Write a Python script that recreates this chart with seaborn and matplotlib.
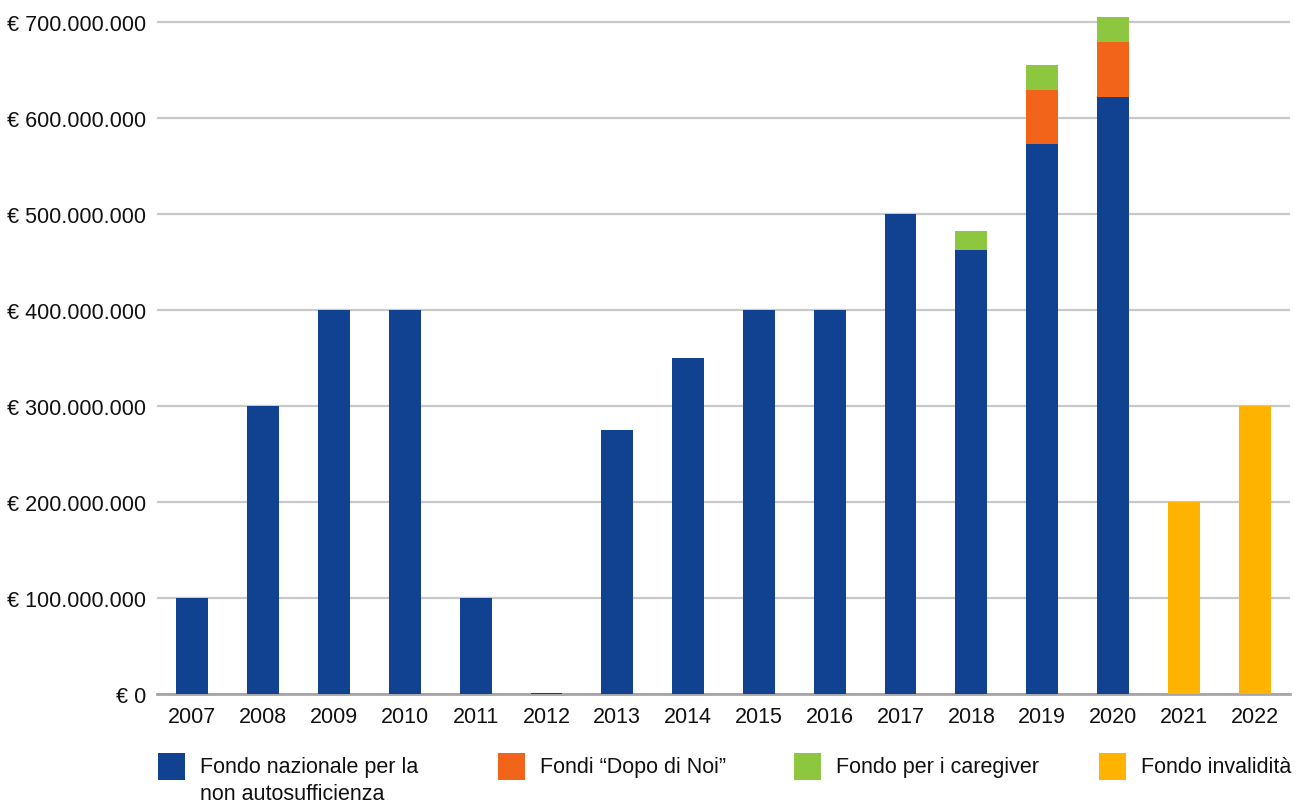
import matplotlib
matplotlib.use("Agg")
import matplotlib.pyplot as plt
import matplotlib.ticker as mticker
from matplotlib.patches import Rectangle
import numpy as np
import pandas as pd
import seaborn as sns

# Yearly funding (millions of euro)
years = ["2007", "2008", "2009", "2010", "2011", "2012", "2013", "2014",
         "2015", "2016", "2017", "2018", "2019", "2020", "2021", "2022"]
fna = [100, 300, 400, 400, 100, 1, 275, 350, 400, 400, 500, 462, 573, 621, 0, 0]
dopo_di_noi = [0, 0, 0, 0, 0, 0, 0, 0, 0, 0, 0, 0, 56, 58, 0, 0]
caregiver = [0, 0, 0, 0, 0, 0, 0, 0, 0, 0, 0, 20, 26, 26, 0, 0]
invalidita = [0, 0, 0, 0, 0, 0, 0, 0, 0, 0, 0, 0, 0, 0, 200, 300]

labels = ["Fondo nazionale per la\nnon autosufficienza", "Fondi \u201cDopo di Noi\u201d",
          "Fondo per i caregiver", "Fondo invalidit\u00e0"]
colors = ["#104291", "#F26419", "#8DC63F", "#FDB300"]

sns.set_theme(style="white")
plt.rcParams["font.family"] = ["Liberation Sans", "DejaVu Sans"]

W, H = 1304, 804
FS = 15.5
M = 1e6
df = pd.DataFrame({
    "year": years,
    "fna": np.array(fna) * M,
    "dopo": np.array(dopo_di_noi) * M,
    "care": np.array(caregiver) * M,
    "inv": np.array(invalidita) * M,
})
df["lvl2"] = df["fna"] + df["dopo"]
df["lvl3"] = df["lvl2"] + df["care"]

fig = plt.figure(figsize=(W / 100, H / 100), dpi=100)
ax = fig.add_axes([157 / W, 1 - 695 / H, (1290 - 157) / W, (695 - 11) / H])

bw = 0.45
# stacked layers: draw cumulative totals from the top layer down
for col, c in [("lvl3", colors[2]), ("lvl2", colors[1]), ("fna", colors[0]), ("inv", colors[3])]:
    sns.barplot(data=df, x="year", y=col, color=c, width=bw, saturation=1,
                ax=ax, zorder=3, linewidth=0)

ax.set_xlim(-0.5, len(years) - 0.5)
ax.set_ylim(0, 712 * M)
ax.set_yticks(np.arange(0, 701, 100) * M)


def euro(v, pos):
    if v == 0:
        return "\u20ac 0"
    return "\u20ac " + f"{int(round(v)):,}".replace(",", ".")


ax.yaxis.set_major_formatter(mticker.FuncFormatter(euro))
ax.grid(axis="y", color="#c8c8c8", linewidth=1.6, zorder=1)
ax.set_axisbelow(True)
for s in ["top", "right", "left"]:
    ax.spines[s].set_visible(False)
ax.spines["bottom"].set_color("#a6a6a6")
ax.spines["bottom"].set_linewidth(2)
ax.spines["bottom"].set_zorder(2)
ax.tick_params(axis="y", length=0, pad=8, labelsize=FS, labelcolor="#111111")
ax.tick_params(axis="x", length=0, pad=9, labelsize=FS, labelcolor="#111111")
ax.set_xlabel("")
ax.set_ylabel("")

# legend row below the plot: swatch + label for each series
legend_x = [158, 498, 794, 1099]
sw = 27
top = 754
for x0, c, lab in zip(legend_x, colors, labels):
    fig.patches.append(Rectangle((x0 / W, 1 - (top + sw) / H), sw / W, sw / H,
                                 transform=fig.transFigure, facecolor=c,
                                 edgecolor="none"))
    fig.text((x0 + sw + 15) / W, 1 - (top + 3) / H, lab, fontsize=FS,
             color="#111111", ha="left", va="top", linespacing=1.38)

fig.savefig("out.png", dpi=100, facecolor="white")
